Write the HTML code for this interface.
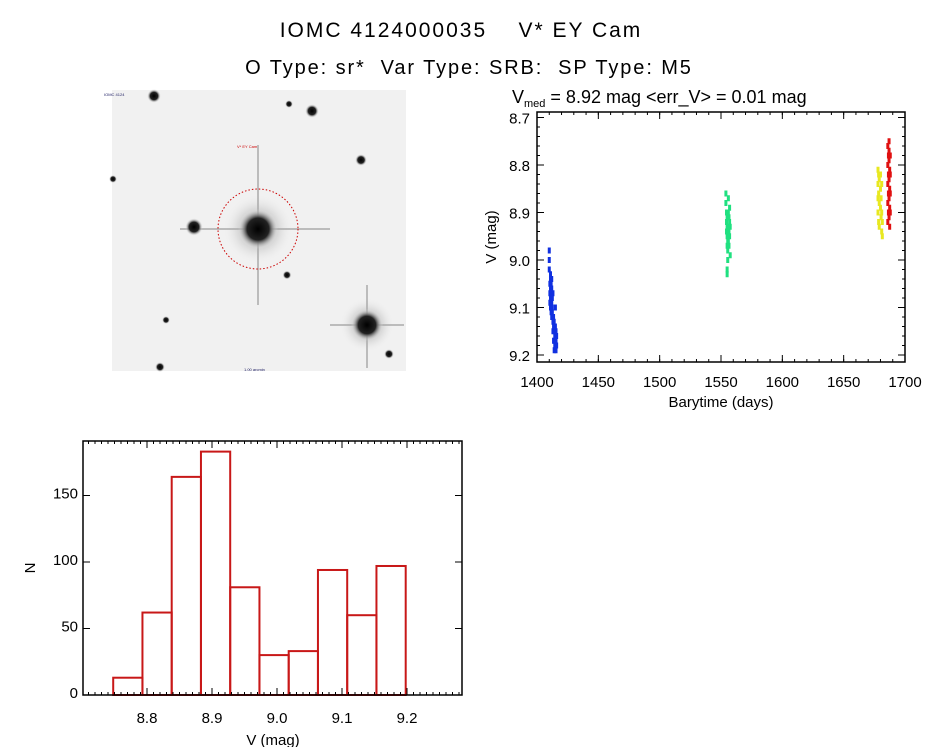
<!DOCTYPE html>
<html><head><meta charset="utf-8"><style>
html,body{margin:0;padding:0;background:#fff;}
svg{display:block;font-family:"Liberation Sans",sans-serif;}
</style></head><body>
<svg id="root" width="944" height="747" viewBox="0 0 944 747" xml:space="preserve">
<text x="461" y="37" font-size="21" text-anchor="middle" style="white-space:pre;letter-spacing:2px">IOMC 4124000035    V* EY Cam</text>
<text x="469" y="74" font-size="20" text-anchor="middle" style="white-space:pre;letter-spacing:1.9px">O Type: sr*  Var Type: SRB:  SP Type: M5</text>
<g>
<defs>
<radialGradient id="st"><stop offset="0" stop-color="#000"/><stop offset="0.55" stop-color="#222"/><stop offset="1" stop-color="#fff" stop-opacity="0"/></radialGradient>
<radialGradient id="halo"><stop offset="0" stop-color="#000" stop-opacity="0.55"/><stop offset="1" stop-color="#fff" stop-opacity="0"/></radialGradient>
</defs>
<rect x="112" y="90" width="294" height="281" fill="#f1f1f1"/>
<circle cx="258" cy="229" r="36" fill="url(#halo)"/>
<line x1="180" y1="229" x2="330" y2="229" stroke="#aaa" stroke-width="1.5"/>
<line x1="258" y1="145" x2="258" y2="305" stroke="#aaa" stroke-width="1.5"/>
<circle cx="258" cy="229" r="20" fill="url(#st)"/>
<circle cx="367" cy="325" r="28" fill="url(#halo)"/>
<line x1="330" y1="325" x2="404" y2="325" stroke="#aaa" stroke-width="1.5"/>
<line x1="367" y1="285" x2="367" y2="368" stroke="#aaa" stroke-width="1.5"/>
<circle cx="367" cy="325" r="16" fill="url(#st)"/>
<circle cx="194" cy="227" r="9" fill="url(#st)"/>
<circle cx="154" cy="96" r="7" fill="url(#st)"/>
<circle cx="312" cy="111" r="7" fill="url(#st)"/>
<circle cx="361" cy="160" r="6" fill="url(#st)"/>
<circle cx="289" cy="104" r="4" fill="url(#st)"/>
<circle cx="287" cy="275" r="4.5" fill="url(#st)"/>
<circle cx="389" cy="354" r="5" fill="url(#st)"/>
<circle cx="160" cy="367" r="5" fill="url(#st)"/>
<circle cx="166" cy="320" r="4" fill="url(#st)"/>
<circle cx="113" cy="179" r="4" fill="url(#st)"/>
<circle cx="258" cy="229" r="40" fill="none" stroke="#c00" stroke-width="1" stroke-dasharray="1.5,2"/>
<text x="237" y="148" font-size="4" fill="#c00">V* EY Cam</text>
<text x="104" y="96" font-size="4" fill="#226">IOMC 4124</text>
<text x="244" y="371" font-size="4" fill="#226">1.00 arcmin</text>
</g>
<g id="lc"></g>
<g id="hist"></g>
</svg>
<script>
const NS="http://www.w3.org/2000/svg";
function mk(p,t,a,txt){const e=document.createElementNS(NS,t);for(const k in a)e.setAttribute(k,a[k]);if(txt!==undefined)e.textContent=txt;p.appendChild(e);return e;}

// ---- light curve data ----
const blueT=[1410,1410,1410,1410.5,1410.5,1410.5,1411,1411,1411,1411,1411.5,1411.5,1411.5,1412,1412,1412,1412,1412.5,1412.5,1413,1413,1413,1413.5,1413.5,1413.5,1414,1414,1414,1414,1414.5,1414.5,1415,1415,1415,1415.5,1415.5,1415.5,1416,1416,1411,1412.5];
const blueV=[8.98,9.00,9.02,9.05,9.07,9.09,9.04,9.06,9.08,9.10,9.05,9.07,9.11,9.04,9.06,9.09,9.12,9.08,9.10,9.07,9.13,9.15,9.12,9.14,9.17,9.13,9.15,9.17,9.19,9.16,9.18,9.10,9.14,9.18,9.15,9.17,9.19,9.16,9.18,9.03,9.11];
const greenT=[1554,1554,1554.5,1554.5,1554.5,1555,1555,1555,1555,1555.5,1555.5,1555.5,1556,1556,1556,1556,1556.5,1556.5,1556.5,1557,1557,1557,1557.5,1557.5,1555,1555];
const greenV=[8.86,8.88,8.90,8.92,8.94,8.91,8.93,8.95,8.97,8.96,8.98,9.00,8.87,8.90,8.93,8.96,8.91,8.94,8.97,8.89,8.92,8.95,8.93,8.99,9.02,9.03];
const yellowT=[1678,1678,1678,1678,1678.5,1678.5,1678.5,1679,1679,1679,1680,1680,1680,1680.5,1680.5,1681,1681,1681,1681.5,1681.5];
const yellowV=[8.81,8.84,8.87,8.90,8.82,8.86,8.92,8.83,8.88,8.93,8.82,8.85,8.89,8.87,8.91,8.84,8.90,8.94,8.92,8.95];
const redT=[1686,1686,1686,1686,1686.5,1686.5,1686.5,1686.5,1687,1687,1687,1687,1687,1687.5,1687.5,1687.5,1687.5,1688,1688,1688,1688,1686,1687];
const redV=[8.76,8.80,8.84,8.88,8.78,8.82,8.86,8.90,8.75,8.79,8.83,8.87,8.91,8.81,8.85,8.89,8.93,8.78,8.82,8.86,8.90,8.92,8.77];
const lcXTicks=[1400,1450,1500,1550,1600,1650,1700];
const lcYTicks=[8.7,8.8,8.9,9.0,9.1,9.2];

const lc=document.getElementById('lc');
const L={x0:537,x1:905,y0:112,y1:362};
const lx=t=>L.x0+(t-1400)/300*(L.x1-L.x0);
const ly=v=>117.5+(v-8.7)/0.1*47.5;
const series=[[blueT,blueV,'#1030e0','blue'],[greenT,greenV,'#20e080','green'],[yellowT,yellowV,'#e8e820','yellow'],[redT,redV,'#e01010','red']];
series.forEach(([T,V,c,n])=>{
 for(let i=0;i<T.length;i++){
  const r=mk(lc,'rect',{x:lx(T[i])-1.5,y:ly(V[i])-3,width:3,height:6,fill:c});
  
  
 }
});
mk(lc,'rect',{x:L.x0,y:L.y0,width:L.x1-L.x0,height:L.y1-L.y0,fill:'none',stroke:'#000','stroke-width':1.5});
lcXTicks.forEach(t=>{const x=lx(t);mk(lc,'line',{x1:x,y1:L.y1,x2:x,y2:L.y1-7,stroke:'#000'});mk(lc,'line',{x1:x,y1:L.y0,x2:x,y2:L.y0+7,stroke:'#000'});
 const tx=mk(lc,'text',{x:x,y:387,'font-size':15,'text-anchor':'middle'},String(t));});
for(let t=1400;t<=1700;t+=10){const x=lx(t);mk(lc,'line',{x1:x,y1:L.y1,x2:x,y2:L.y1-3,stroke:'#000'});mk(lc,'line',{x1:x,y1:L.y0,x2:x,y2:L.y0+3,stroke:'#000'});}
lcYTicks.forEach(v=>{const y=ly(v);mk(lc,'line',{x1:L.x0,y1:y,x2:L.x0+7,y2:y,stroke:'#000'});mk(lc,'line',{x1:L.x1,y1:y,x2:L.x1-7,y2:y,stroke:'#000'});
 const tx=mk(lc,'text',{x:530,y:y+6,'font-size':15,'text-anchor':'end'},v.toFixed(1));});
for(let v=8.7;v<=9.21;v+=0.02){const y=ly(v);mk(lc,'line',{x1:L.x0,y1:y,x2:L.x0+3,y2:y,stroke:'#000'});mk(lc,'line',{x1:L.x1,y1:y,x2:L.x1-3,y2:y,stroke:'#000'});}
let e=mk(lc,'text',{x:721,y:407,'font-size':15,'text-anchor':'middle'},'Barytime (days)');
e=mk(lc,'text',{x:496,y:237,'font-size':15,'text-anchor':'middle',transform:'rotate(-90 496 237)'},'V (mag)');
e=mk(lc,'text',{x:512,y:103,'font-size':18},'');
mk(e,'tspan',{},'V');mk(e,'tspan',{'font-size':11,dy:4},'med');mk(e,'tspan',{dy:-4},' = 8.92 mag <err_V> = 0.01 mag');

// ---- histogram data ----
const binStart=8.748, binWidth=0.045;
const counts=[13,62,164,183,81,30,33,94,60,97];
const hXTicks=[8.8,8.9,9.0,9.1,9.2];
const hYTicks=[0,50,100,150];
const hg=document.getElementById('hist');
const H={x0:83,x1:462,y0:441,y1:695};
const hx=v=>147+(v-8.8)/0.1*65;
const hy=n=>695-n/50*66.5;
counts.forEach((c,i)=>{const a=hx(binStart+i*binWidth),b=hx(binStart+(i+1)*binWidth);
 const r=mk(hg,'rect',{x:a,y:hy(c),width:b-a,height:695-hy(c),fill:'none',stroke:'#c81818','stroke-width':2});
 });
mk(hg,'rect',{x:H.x0,y:H.y0,width:H.x1-H.x0,height:H.y1-H.y0,fill:'none',stroke:'#000','stroke-width':1.5});
hXTicks.forEach(v=>{const x=hx(v);mk(hg,'line',{x1:x,y1:H.y1,x2:x,y2:H.y1-7,stroke:'#000'});mk(hg,'line',{x1:x,y1:H.y0,x2:x,y2:H.y0+7,stroke:'#000'});
 const tx=mk(hg,'text',{x:x,y:723,'font-size':15,'text-anchor':'middle'},v.toFixed(1));});
for(let v=8.71;v<=9.29;v+=0.01){const x=hx(v);if(x>H.x0&&x<H.x1){mk(hg,'line',{x1:x,y1:H.y1,x2:x,y2:H.y1-3,stroke:'#000'});mk(hg,'line',{x1:x,y1:H.y0,x2:x,y2:H.y0+3,stroke:'#000'});}}
hYTicks.forEach(n=>{const y=hy(n);mk(hg,'line',{x1:H.x0,y1:y,x2:H.x0+7,y2:y,stroke:'#000'});mk(hg,'line',{x1:H.x1,y1:y,x2:H.x1-7,y2:y,stroke:'#000'});
 const tx=mk(hg,'text',{x:78,y:y+3,'font-size':15,'text-anchor':'end'},String(n));});
e=mk(hg,'text',{x:273,y:745,'font-size':15,'text-anchor':'middle'},'V (mag)');
e=mk(hg,'text',{x:35,y:568,'font-size':15,'text-anchor':'middle',transform:'rotate(-90 35 568)'},'N');
</script>
</body></html>
